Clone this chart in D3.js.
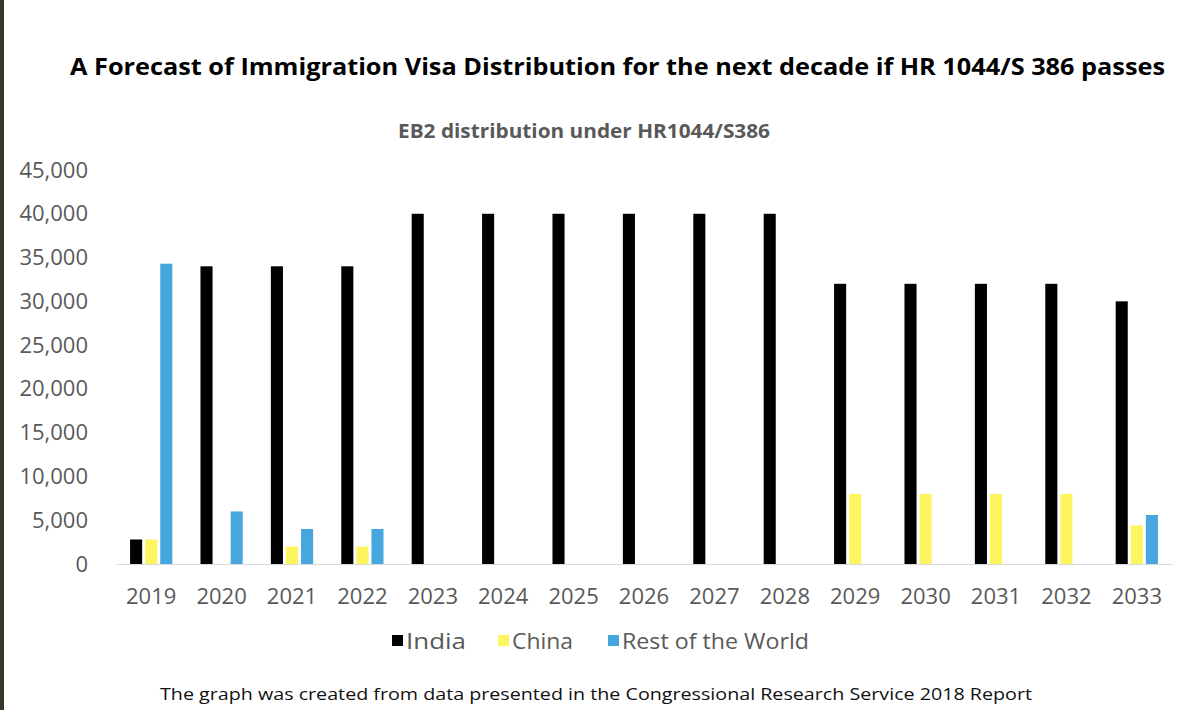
<!DOCTYPE html>
<html>
<head>
<meta charset="utf-8">
<script src="https://cdn.jsdelivr.net/npm/d3@7"></script>
<style>
  body { margin: 0; background: #fff; }
  svg { display: block; font-family: "Open Sans", sans-serif; }
</style>
</head>
<body>
<svg id="chart" width="1200" height="710"></svg>
<script>
const years = ["2019", "2020", "2021", "2022", "2023", "2024", "2025", "2026", "2027", "2028", "2029", "2030", "2031", "2032", "2033"];
const india = [2800, 34000, 34000, 34000, 40000, 40000, 40000, 40000, 40000, 40000, 32000, 32000, 32000, 32000, 30000];
const china = [2800, 0, 2000, 2000, 0, 0, 0, 0, 0, 0, 8000, 8000, 8000, 8000, 4400];
const rest = [34300, 6000, 4000, 4000, 0, 0, 0, 0, 0, 0, 0, 0, 0, 0, 5600];
const yTicks = [0, 5000, 10000, 15000, 20000, 25000, 30000, 35000, 40000, 45000];

const seriesNames = ["India", "China", "Rest of the World"];
const color = { "India": "#000000", "China": "#fdf560", "Rest of the World": "#47a6dd" };
const series = { "India": india, "China": china, "Rest of the World": rest };

const svg = d3.select("#chart");
const width = 1200;
const height = 710;
const margin = { top: 170, right: 28, bottom: 146, left: 116 };

// dark frame edge on the left
svg.append("rect").attr("x", 0).attr("y", 0).attr("width", 4).attr("height", height).attr("fill", "#3b342a");

svg.append("text")
  .attr("x", 70).attr("y", 75)
  .attr("textLength", 1095).attr("lengthAdjust", "spacingAndGlyphs")
  .attr("font-size", 24).attr("font-weight", "bold").attr("fill", "#000")
  .text("A Forecast of Immigration Visa Distribution for the next decade if HR 1044/S 386 passes");

svg.append("text")
  .attr("x", 398).attr("y", 138)
  .attr("textLength", 372).attr("lengthAdjust", "spacingAndGlyphs")
  .attr("font-size", 19).attr("font-weight", "bold").attr("fill", "#595959")
  .text("EB2 distribution under HR1044/S386");

const y = d3.scaleLinear()
  .domain([0, 45000])
  .range([564, margin.top]);

const x = d3.scaleBand()
  .domain(years)
  .range([margin.left, width - margin.right])
  .paddingInner(0.4)
  .paddingOuter(0.2);

const x1 = d3.scaleBand()
  .domain(seriesNames)
  .range([0, x.bandwidth()])
  .paddingInner(0.2);

const yAxis = (g) =>
  g.attr("transform", `translate(${margin.left - 25},0)`)
    .call(d3.axisLeft(y).tickValues(yTicks).tickSize(0).tickFormat(d3.format(",")))
    .call((g) => g.select(".domain").remove())
    .call((g) => g.selectAll("text").attr("font-size", 22).attr("fill", "#595959").attr("font-family", "'Open Sans', sans-serif"));

svg.append("g").call(yAxis);

const xAxis = (g) =>
  g.attr("transform", `translate(0,${y(0)})`)
    .call(d3.axisBottom(x).tickSize(0).tickSizeOuter(0).tickPadding(24))
    .call((g) => g.select(".domain").attr("stroke", "#d9d9d9"))
    .call((g) => g.selectAll("text").attr("font-size", 22).attr("fill", "#595959").attr("font-family", "'Open Sans', sans-serif"));

svg.append("g").call(xAxis);

const groups = svg.append("g")
  .selectAll("g")
  .data(years)
  .join("g")
  .attr("transform", (d) => `translate(${x(d)},0)`);

groups.selectAll("rect")
  .data((d, i) => seriesNames.map((s) => ({ key: s, value: series[s][i] })))
  .join("rect")
  .attr("x", (d) => x1(d.key))
  .attr("width", x1.bandwidth())
  .attr("y", (d) => y(d.value))
  .attr("height", (d) => y(0) - y(d.value))
  .attr("fill", (d) => color[d.key]);

// legend
const legendX = [392, 498, 608];
const legendW = [60, 61, 187];
const legend = svg.append("g");
seriesNames.forEach((s, i) => {
  legend.append("rect")
    .attr("x", legendX[i]).attr("y", 635)
    .attr("width", 11).attr("height", 11)
    .attr("fill", color[s]);
  legend.append("text")
    .attr("x", legendX[i] + 14).attr("y", 649)
    .attr("textLength", legendW[i]).attr("lengthAdjust", "spacingAndGlyphs")
    .attr("font-size", 21).attr("fill", "#595959")
    .text(s);
});

svg.append("text")
  .attr("x", 160).attr("y", 700)
  .attr("textLength", 872).attr("lengthAdjust", "spacingAndGlyphs")
  .attr("font-size", 17).attr("fill", "#111")
  .text("The graph was created from data presented in the Congressional Research Service 2018 Report");
</script>
</body>
</html>
